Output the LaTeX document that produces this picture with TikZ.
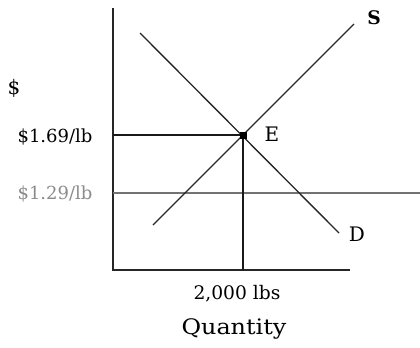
\documentclass[tikz,border=0pt]{standalone}
\usepackage{fontspec}
\setmainfont{DejaVu Serif}
\newfontfamily\widefont[FakeStretch=1.12]{DejaVu Serif}
\begin{document}
\begin{tikzpicture}[x=0.75pt,y=-0.75pt,
  axis/.style={line width=1.1pt,draw=black!85},
  curve/.style={line width=1.0pt,draw=black!85},
  guide/.style={line width=1.1pt,draw=black!90},
  grayline/.style={line width=0.8pt,draw=black!55},
  lbl/.style={font=\fontsize{13.5}{16}\selectfont,inner sep=0pt},
  glbl/.style={lbl,text=black!45},
  big/.style={font=\fontsize{15}{18}\selectfont,inner sep=0pt}]
\useasboundingbox (0,0) rectangle (420,347);
% coordinates
\coordinate (ytop) at (113,8);
\coordinate (origin) at (113,270);
\coordinate (xend) at (350,270);
\coordinate (E) at (243,135);
\coordinate (Ey) at (113,135);
\coordinate (Ex) at (243,270);
\coordinate (Gl) at (113,193);
\coordinate (Gr) at (420,193);
\coordinate (Dtop) at (140,33);
\coordinate (Dbot) at (339,233);
\coordinate (Sbot) at (153,225);
\coordinate (Stop) at (354,24);
% axes
\draw[axis] (ytop) -- (origin) -- (xend);
% gray price line
\draw[grayline] (Gl) -- (Gr);
% curves
\draw[curve] (Dtop) -- (Dbot);
\draw[curve] (Sbot) -- (Stop);
% guides
\draw[guide] (Ey) -- (E) -- (Ex);
\fill (E) ++(-3.5,-3.5) rectangle ++(7,7);
% labels
\node[big,font=\bfseries\fontsize{14}{17}\selectfont] (Slbl) at (374,18) {S};
\node[big] (Elbl) at (272,134) {E};
\node[big] (Dlbl) at (357,234) {D};
\node[big] (dollar) at (14,88) {\$};
\node[lbl] (p1) at (55,137) {\$1.69/lb};
\node[glbl] (p2) at (55,194) {\$1.29/lb};
\node[lbl,font=\fontsize{14}{17}\selectfont] (q1) at (237,294) {2,000 lbs};
\node[big,font=\widefont\fontsize{16}{19}\selectfont] (qlbl) at (234,329) {Quantity};
\end{tikzpicture}
\end{document}
